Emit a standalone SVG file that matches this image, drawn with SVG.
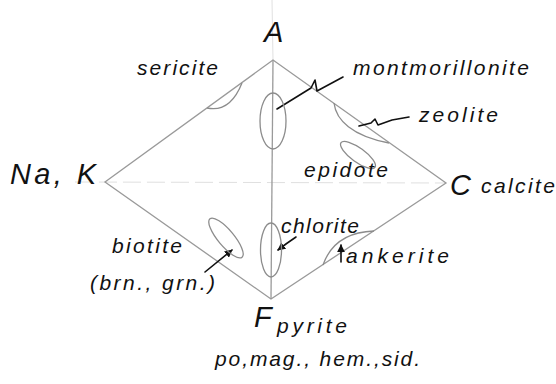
<svg xmlns="http://www.w3.org/2000/svg" width="556" height="384" viewBox="0 0 556 384">
<style>
  .edge{stroke:#9a9a9a;stroke-width:1.3;fill:none}
  .faint{stroke:#e0e0e0;stroke-width:1;fill:none}
  .blob{stroke:#8c8c8c;stroke-width:1.3;fill:none}
  .lead{stroke:#111;stroke-width:1.6;fill:none;stroke-linecap:round;stroke-linejoin:round}
  .t{font-family:"Liberation Sans",Arial,sans-serif;font-style:italic;fill:#111}
  .big{font-size:29px}
  .lbl{font-size:21px}
</style>
<defs>
  <marker id="ah" viewBox="0 0 10 10" refX="9" refY="5" markerWidth="5" markerHeight="5" orient="auto">
    <path d="M0,0 L10,5 L0,10 z" fill="#111"/>
  </marker>
</defs>
<rect width="556" height="384" fill="#fff"/>
<g id="connectors">
  <line class="faint" x1="272" y1="0" x2="273" y2="60"/>
  <line class="faint" x1="75" y1="182" x2="446" y2="183" stroke-dasharray="18 6"/>
  <line class="edge" x1="273" y1="60" x2="271" y2="299"/>
  <path class="edge" d="M273,60 L105,182 L271,299 L446,183 Z"/>
  <path class="lead" d="M277,109 L311,88 L315,80 L317,91 L343,77"/>
  <path class="lead" d="M359,126 L371,123 L375,119 L378,125 L392,120 L409,117"/>
  <path class="lead" d="M205,272 L232,250" marker-end="url(#ah)"/>
  <path class="lead" d="M296,237 Q287,243 278,250" marker-end="url(#ah)"/>
  <path class="lead" d="M341,262 L341,245" marker-end="url(#ah)"/>
</g>
<g id="vertex-A"><text class="t big" x="264" y="42">A</text></g>
<g id="vertex-NaK"><text class="t big" x="10" y="184" textLength="86" lengthAdjust="spacing">Na, K</text></g>
<g id="vertex-C">
  <text class="t big" x="450" y="195">C</text>
  <text class="t lbl" x="481" y="193" textLength="74" lengthAdjust="spacing">calcite</text>
</g>
<g id="vertex-F">
  <text class="t big" x="254" y="327">F</text>
  <text class="t lbl" x="277" y="333" textLength="70" lengthAdjust="spacing">pyrite</text>
  <text class="t lbl" x="215" y="366" textLength="205" lengthAdjust="spacing">po,mag., hem.,sid.</text>
</g>
<g id="sericite">
  <path class="blob" d="M207,108 Q230,113 242,83"/>
  <text class="t lbl" x="137" y="75" textLength="81" lengthAdjust="spacing">sericite</text>
</g>
<g id="montmorillonite">
  <ellipse class="blob" cx="273" cy="121" rx="13" ry="28"/>
  <text class="t lbl" x="353" y="75" textLength="176" lengthAdjust="spacing">montmorillonite</text>
</g>
<g id="zeolite">
  <path class="blob" d="M334,103 C336,120 352,136 389,143"/>
  <text class="t lbl" x="419" y="122" textLength="79" lengthAdjust="spacing">zeolite</text>
</g>
<g id="epidote">
  <ellipse class="blob" cx="358" cy="155" rx="21" ry="7" transform="rotate(36 358 155)"/>
  <text class="t lbl" x="304" y="177" textLength="84" lengthAdjust="spacing">epidote</text>
</g>
<g id="biotite">
  <ellipse class="blob" cx="226" cy="238" rx="25" ry="8" transform="rotate(50 226 238)"/>
  <text class="t lbl" x="112" y="253" textLength="70" lengthAdjust="spacing">biotite</text>
  <text class="t lbl" x="90" y="290" textLength="125" lengthAdjust="spacing">(brn., grn.)</text>
</g>
<g id="chlorite">
  <ellipse class="blob" cx="271" cy="250" rx="10.5" ry="27"/>
  <text class="t lbl" x="281" y="233" textLength="78" lengthAdjust="spacing">chlorite</text>
</g>
<g id="ankerite">
  <path class="blob" d="M323,265 C330,245 346,232 374,231"/>
  <text class="t lbl" x="346" y="263" textLength="103" lengthAdjust="spacing">ankerite</text>
</g>
</svg>
